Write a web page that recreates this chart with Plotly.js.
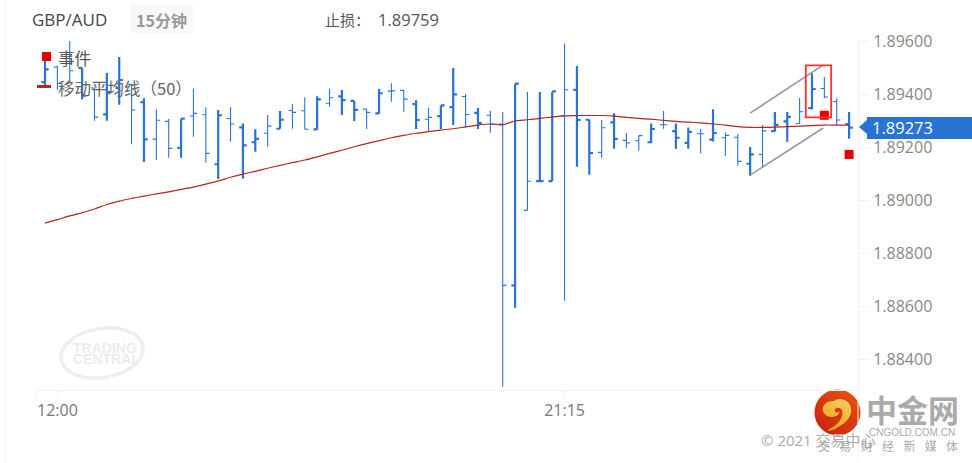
<!DOCTYPE html>
<html><head><meta charset="utf-8">
<script src="https://cdn.plot.ly/plotly-3.0.1.min.js"></script>
<style>html,body{margin:0;padding:0;background:#fff}#c{width:972px;height:463px}</style>
</head><body><div id="c"></div>
<script>
const openP=[1.89445,1.89502,1.89441,1.89499,1.89423,1.89323,1.89423,1.89437,1.89369,1.89230,1.89297,1.89197,1.89317,1.89322,1.89135,1.89308,1.89274,1.89218,1.89252,1.89269,1.89338,1.89337,1.89267,1.89365,1.89391,1.89374,1.89343,1.89327,1.89411,1.89414,1.89362,1.89305,1.89317,1.89351,1.89391,1.89329,1.89320,1.89287,1.88678,1.88961,1.89071,1.89071,1.89318,1.89416,1.89303,1.89180,1.89293,1.89225,1.89224,1.89218,1.89284,1.89260,1.89216,1.89250,1.89228,1.89235,1.89237,1.89137,1.89172,1.89260,1.89297,1.89289,1.89347,1.89421,1.89372,1.89287];
const highP=[1.89536,1.89507,1.89600,1.89499,1.89423,1.89479,1.89540,1.89437,1.89384,1.89343,1.89306,1.89307,1.89421,1.89350,1.89340,1.89351,1.89289,1.89267,1.89321,1.89336,1.89362,1.89388,1.89392,1.89419,1.89415,1.89374,1.89343,1.89419,1.89441,1.89414,1.89377,1.89347,1.89357,1.89498,1.89400,1.89347,1.89336,1.89332,1.89439,1.89408,1.89408,1.89408,1.89591,1.89506,1.89303,1.89302,1.89328,1.89253,1.89243,1.89289,1.89336,1.89289,1.89274,1.89268,1.89343,1.89255,1.89250,1.89200,1.89283,1.89332,1.89332,1.89385,1.89478,1.89464,1.89384,1.89332];
const lowP=[1.89434,1.89415,1.89441,1.89380,1.89299,1.89299,1.89360,1.89211,1.89144,1.89151,1.89160,1.89160,1.89239,1.89141,1.89079,1.89220,1.89080,1.89182,1.89201,1.89269,1.89269,1.89267,1.89265,1.89352,1.89321,1.89298,1.89268,1.89326,1.89371,1.89333,1.89268,1.89260,1.89268,1.89283,1.89274,1.89268,1.89254,1.88295,1.88593,1.88961,1.89071,1.89071,1.88620,1.89126,1.89095,1.89160,1.89194,1.89197,1.89186,1.89214,1.89269,1.89194,1.89194,1.89177,1.89221,1.89166,1.89129,1.89092,1.89123,1.89259,1.89220,1.89288,1.89342,1.89384,1.89283,1.89231];
const closeP=[1.89493,1.89440,1.89488,1.89394,1.89313,1.89408,1.89453,1.89340,1.89229,1.89301,1.89195,1.89307,1.89327,1.89176,1.89320,1.89287,1.89206,1.89231,1.89279,1.89303,1.89331,1.89267,1.89380,1.89386,1.89377,1.89340,1.89331,1.89403,1.89412,1.89381,1.89302,1.89312,1.89357,1.89399,1.89323,1.89291,1.89287,1.88678,1.89439,1.89071,1.89071,1.89410,1.89416,1.89302,1.89177,1.89273,1.89231,1.89215,1.89243,1.89268,1.89284,1.89235,1.89257,1.89250,1.89253,1.89244,1.89146,1.89172,1.89261,1.89284,1.89314,1.89333,1.89419,1.89389,1.89302,1.89273];
const movingAvg=[1.88913,1.88926,1.88940,1.88952,1.88966,1.88983,1.88996,1.89006,1.89015,1.89023,1.89031,1.89040,1.89049,1.89060,1.89072,1.89086,1.89098,1.89108,1.89120,1.89131,1.89141,1.89151,1.89163,1.89176,1.89188,1.89201,1.89213,1.89224,1.89235,1.89244,1.89252,1.89258,1.89264,1.89269,1.89276,1.89283,1.89287,1.89284,1.89299,1.89303,1.89308,1.89313,1.89318,1.89319,1.89319,1.89319,1.89317,1.89312,1.89308,1.89305,1.89301,1.89297,1.89294,1.89291,1.89287,1.89283,1.89277,1.89274,1.89274,1.89275,1.89277,1.89279,1.89281,1.89283,1.89283,1.89283];
const thickBars=[0,3,5,6,8,11,14,16,17,19,22,24,25,27,30,32,33,35,38,40,41,43,44,46,49,51,52,54,57,59,60,62,65];
const eventBars=[63,65];
const eventPrices=[1.89320,1.89172];
const priceTicks=[1.89600,1.89400,1.89200,1.89000,1.88800,1.88600,1.88400];
const timeTickBars=[1,42];
const timeLabels=['12:00','21:15'];
const lastPrice=1.89273;
const channelBars=[57,62.9];
const channelUpper=[1.89328,1.89509];
const channelLower=[1.89094,1.89272];
const boxBars=[61.5,63.55];
const boxPrices=[1.89312,1.89508];

const W=972,H=463,L=35,R=858,T=40,B=390;
const px=x=>(x-L)/(R-L), py=y=>(B-y)/(B-T);
const idx=openP.map((_,i)=>i);
const pick=(a,k)=>k.map(i=>a[i]);
const thinBars=idx.filter(i=>!thickBars.includes(i));
const BLUE='#2874d2';
const ohlc=(k,w)=>({type:'ohlc',x:k,open:pick(openP,k),high:pick(highP,k),low:pick(lowP,k),close:pick(closeP,k),
  tickwidth:0.3,increasing:{line:{color:BLUE,width:w}},decreasing:{line:{color:BLUE,width:w}},hoverinfo:'skip'});
const FONT='"Open Sans","Noto Sans CJK SC",sans-serif';
const CJK='"Noto Sans CJK SC",sans-serif';
const note=(x,y,text,size,color,anchor,extra)=>Object.assign({xref:'paper',yref:'paper',x:px(x),y:py(y),text,showarrow:false,
  xanchor:anchor||'left',yanchor:'middle',borderpad:0,font:{family:FONT,size,color}},extra||{});
const rectPx=(x0,y0,x1,y1,fill)=>({type:'rect',xref:'paper',yref:'paper',x0:px(x0),x1:px(x1),y0:py(y0),y1:py(y1),fillcolor:fill,line:{width:0},layer:'above'});
const linePx=(x0,y0,x1,y1,color,w)=>({type:'line',xref:'paper',yref:'paper',x0:px(x0),x1:px(x1),y0:py(y0),y1:py(y1),line:{color,width:w},layer:'below'});

const logoSvg=`<svg xmlns="http://www.w3.org/2000/svg" viewBox="0 0 100 100"><defs><linearGradient id="g" x1="0.9" y1="0" x2="0.1" y2="1"><stop offset="0" stop-color="#e8540e"/><stop offset="1" stop-color="#c81e14"/></linearGradient><linearGradient id="y" x1="0.8" y1="0" x2="0.2" y2="1"><stop offset="0" stop-color="#f7cb60"/><stop offset="1" stop-color="#f0a012"/></linearGradient></defs><circle cx="50" cy="50" r="49" fill="url(#g)"/><path d="M20 50 C14 36 28 24 42 26 C52 16 74 22 78 38 C84 58 66 74 50 82 C44 86 36 90 28 88 C50 78 64 62 60 46 C58 38 46 38 44 44 C44 50 50 52 54 48 C54 60 30 66 20 50 Z" fill="url(#y)"/></svg>`;
const tcSvg=`<svg xmlns="http://www.w3.org/2000/svg" viewBox="0 0 100 64"><g transform="rotate(-9 50 32)"><ellipse cx="50" cy="32" rx="46" ry="27" fill="none" stroke="#eeeeee" stroke-width="4"/></g><circle cx="19" cy="52" r="2" fill="#fff"/><circle cx="40" cy="4" r="2" fill="#fff"/><circle cx="85" cy="15" r="2" fill="#fff"/><circle cx="60" cy="59" r="2" fill="#fff"/></svg>`;
const svgUrl=s=>'data:image/svg+xml;charset=utf-8,'+encodeURIComponent(s);
const imgPx=(s,x,y,w,h)=>({source:svgUrl(s),xref:'paper',yref:'paper',x:px(x),y:py(y),sizex:w/(R-L),sizey:h/(B-T),xanchor:'left',yanchor:'top',sizing:'stretch',layer:'below'});

const PALE='#f2f2f2';
const RED='#e50000';
const data=[
  ohlc(thinBars,1.1),ohlc(thickBars,2.2),
  {type:'scatter',mode:'lines',x:idx,y:movingAvg,line:{color:'#b3261b',width:1.2,shape:'spline',smoothing:0.8},hoverinfo:'skip'},
  {type:'scatter',mode:'markers',x:eventBars,y:eventPrices,marker:{symbol:'square',size:9,color:RED},hoverinfo:'skip'}
];
const layout={
  width:W,height:H,showlegend:false,paper_bgcolor:'#fff',plot_bgcolor:'#fff',dragmode:false,
  margin:{l:L,r:W-R,t:T,b:H-B,pad:0},
  font:{family:FONT},
  xaxis:{range:[-0.808,65.72],fixedrange:true,rangeslider:{visible:false},showgrid:false,zeroline:false,showline:true,linecolor:PALE,linewidth:1,
    tickmode:'array',tickvals:[-0.808].concat(timeTickBars),ticktext:[''].concat(timeLabels),ticks:'outside',ticklen:8,tickcolor:PALE,
    tickfont:{size:16,color:'#777',family:FONT},ticklabelstandoff:-2},
  yaxis:{range:[1.88283,1.89604],side:'right',fixedrange:true,showgrid:false,zeroline:false,showline:true,linecolor:PALE,linewidth:1,
    tickmode:'array',tickvals:priceTicks,ticktext:priceTicks.map(v=>v.toFixed(5)),ticks:'outside',ticklen:10,tickcolor:PALE,
    tickfont:{size:16,color:'#888',family:FONT},ticklabelstandoff:1},
  images:[imgPx(tcSvg,57,324,90,58),imgPx(logoSvg,814,389,47,47)],
  shapes:[
    linePx(5,0,5,463,'#f3f3f3',1),
    linePx(858,390,858,463,'#f6f6f6',1),
    {type:'line',xref:'x',yref:'y',x0:channelBars[0],x1:channelBars[1],y0:channelUpper[0],y1:channelUpper[1],line:{color:'#999',width:1.6}},
    {type:'line',xref:'x',yref:'y',x0:channelBars[0],x1:channelBars[1],y0:channelLower[0],y1:channelLower[1],line:{color:'#999',width:1.6}},
    {type:'rect',xref:'x',yref:'y',x0:boxBars[0],x1:boxBars[1],y0:boxPrices[0],y1:boxPrices[1],line:{color:'#ff3030',width:1.8},fillcolor:'rgba(0,0,0,0)'},
    {type:'path',xref:'paper',yref:'paper',path:`M ${px(130)} ${py(4)} L ${px(193)} ${py(4)} L ${px(193)} ${py(33)} L ${px(130)} ${py(33)} Z`,fillcolor:'#f8f8f8',line:{width:0},layer:'below'},
    rectPx(42,52,51,61,RED),
    rectPx(37,85,51,88,'#b3261b'),
    rectPx(867,117,972,139,BLUE),
    {type:'path',xref:'paper',yref:'paper',path:`M ${px(859)} ${py(127)} L ${px(867)} ${py(120)} L ${px(867)} ${py(134)} Z`,fillcolor:BLUE,line:{width:0},layer:'above'}
  ],
  annotations:[
    note(31,20,'GBP/AUD',17,'#444'),
    note(161.5,20,'<b>15分钟</b>',16,'#999','center',{font:{family:CJK,size:16,color:'#999'}}),
    note(324,20,'止损：',16,'#555','left',{font:{family:CJK,size:15,color:'#555'}}),
    note(377,20,'1.89759',16.5,'#555'),
    note(57,58,'事件',16,'#555','left',{font:{family:CJK,size:16.5,color:'#555'}}),
    note(57,88,'移动平均线（50）',16.5,'#666','left',{font:{family:CJK,size:16.5,color:'#666'}}),
    note(871.5,127.5,lastPrice.toFixed(5),16.5,'#fff'),
    note(72,348,'<b>TRADING</b>',14,'#ececec','left',{font:{family:'"Liberation Sans",sans-serif',size:14,color:'#ececec'}}),
    note(72,359,'<b>CENTRAL</b>',14,'#ececec','left',{font:{family:'"Liberation Sans",sans-serif',size:14,color:'#ececec'}}),
    note(912,408,'<b>中金网</b>',31,'#aaa','center',{font:{family:CJK,size:31,color:'#aaa'}}),
    note(912,432,'CNGOLD.COM.CN',10,'#aaa','center',{font:{family:'"Liberation Sans",sans-serif',size:10,color:'#aaa'}}),
    note(760,440,'© 2021 交易中心',15,'#aaa'),
    note(888,446,'交\u00a0\u00a0\u00a0易\u00a0\u00a0\u00a0财\u00a0\u00a0\u00a0经\u00a0\u00a0\u00a0新\u00a0\u00a0\u00a0媒\u00a0\u00a0\u00a0体',12,'#aaa','center',{font:{family:FONT,size:12,color:'#aaa'}})
  ]
};
Plotly.newPlot('c',data,layout,{displayModeBar:false,staticPlot:true});
</script></body></html>
